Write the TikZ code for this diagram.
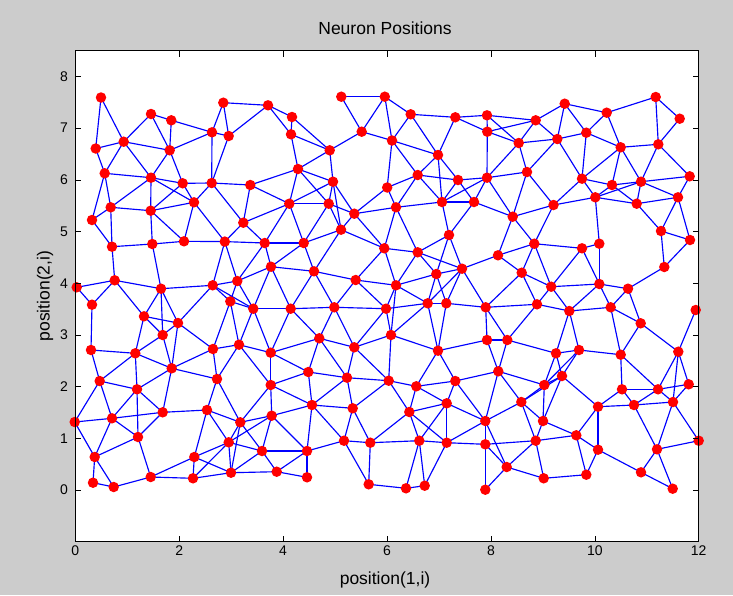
\documentclass[tikz,border=0pt]{standalone}
\usepackage{fontspec}
\setmainfont{Liberation Sans}
\definecolor{figbg}{RGB}{204,204,204}
\pgfdeclarelayer{back}
\pgfdeclarelayer{edges}
\pgfsetlayers{back,edges,main}
\tikzset{
  dot/.style={circle,fill=red,inner sep=0pt,minimum size=10.5pt},
  edge/.style={draw=blue,line width=1.15pt},
  lbl/.style={font=\fontsize{14}{16}\selectfont,inner sep=0pt},
  big/.style={font=\fontsize{17.5}{20}\selectfont,inner sep=0pt},
  tick/.style={draw=black,line width=0.6pt}
}
\def\pts{101/97.5,151/114,171.3/120.3,223.3/102.7,212/132.3,95.7/148.5,123.7/141.7,169.7/150.3,104.7/173.3,151/177.7,182.7/183.3,211.7/183,194/202.3,110.7/207.3,150.7/210.7,92/220,
228.7/136,268/105.3,292/117,291/134.3,341.3/96.7,384.8/96.7,361.7/131.7,329.7/150.3,298/169,333/181.7,250.3/185,289.3/203.7,328.7/203.7,354.3/213.7,243.3/222.7,
410.7/114.3,455.3/117.3,487/115.3,535.7/120.3,487.3/131.7,518.7/143,392/140.5,438/155,417.7/175,458/180,487/177.7,527/172,387.2/187.5,396/207.3,442/202,474/202,512.7/216.7,
564.7/103.7,606.7/112.7,655.7/97,679.7/118.7,586.3/132.7,557.3/139,620.7/147.3,658.3/144.3,689.7/176.3,582/178.7,612/185,641/181.7,595.3/197.3,636.7/203.7,678/197.3,553.5/205,
112/246.7,152.3/244,184/241.3,224.8/241.6,76.7/287.3,114.7/280.3,161/288.7,212.7/285.3,92/304.7,144/316.3,178/323,162.7/335,91/350,135.3/353.3,213/349,
341/229.7,264.7/243,303.7/243,384.3/248.3,271/266.7,314/271.3,355.7/280,237.3/281,230.3/301.4,253.3/308.7,290.7/308.7,334.3/307.3,386/308.7,239/344.7,319.3/338.3,354.3/347.3,270.7/352.7,
449/235,417.7/252.3,436.3/274,462/268.7,534.3/243.7,498/255.3,521.7/272.7,396/285.3,427.7/303.3,446.3/303.3,485.7/307.3,537/304.3,391/335,438/350.7,487/340,507.3/340,
661/231,690/240,582/248.3,599.3/243.7,664.3/267,551.2/286.7,599.3/284,628/288.7,610.7/307.3,569.3/311,695.7/310,640.7/323.3,556/353.3,579/350,620.7/354.7,678.3/351.7,
171.7/368.3,99.7/381,137/389.3,217/379,74.7/422,112/418.3,162.7/412.3,207/410,138/437,94.7/457,194.3/457,93/482.7,113.7/487,150.7/477,193/478.3,
308.3/372,270.7/385,347/377.7,312/405,352.7/408.3,271.7/415.7,240.3/422.3,228.7/442.3,262/451,307/451,344/440.7,370.3/442.7,231/472.7,276.7/471.7,307/477.3,368.7/484.3,
388.7/380.7,416.3/386.3,455.3/381,498.3/371.3,446.7/403.3,521.3/402,409.3/412,485.3/421,543/421,419.3/440.7,446.7/442.7,485.3/444.3,535.7/440.7,506.7/467,543.7/478.3,406/488.3,424.7/485.7,485.3/489.7,544.3/385,
562/376,622/389.3,658/389.3,688.7/384.3,598/406.7,634/405,673/402,576.3/435.3,698.7/440.7,598/449.7,657/449.3,586.3/474.7,641/472.3,672.7/488.7}
\begin{document}
\begin{tikzpicture}[x=1pt,y=-1pt]
\useasboundingbox (0,0) rectangle (733,595);
\begin{pgfonlayer}{back}
  \fill[figbg] (0,0) rectangle (733,595);
  \fill[white] (75.3,50.5) rectangle (698.7,541.7);
\end{pgfonlayer}
% neurons
\foreach \x/\y [count=\i] in \pts { \node[dot] (n\i) at (\x,\y) {}; }
% links between neurons within distance 1
\begin{pgfonlayer}{edges}
\foreach \xa/\ya [count=\i] in \pts {
  \foreach \xb/\yb [count=\j] in \pts {
    \ifnum\j>\i
      \pgfmathsetmacro\dd{((\xa-\xb)/51.95)^2+((\ya-\yb)/51.7)^2}
      \ifdim\dd pt<1pt \draw[edge] (n\i.center) -- (n\j.center); \fi
    \fi
  }
}
\end{pgfonlayer}
% axes frame and ticks
\draw[tick] (75.3,50.5) rectangle (698.7,541.7);
\foreach \v in {0,...,8} {
  \draw[tick] (75.3,{490-51.7*\v}) -- ++(6,0);
  \draw[tick] (698.7,{490-51.7*\v}) -- ++(-6,0);
  \node[lbl,anchor=east] (yt\v) at (68,{490-51.7*\v}) {\v};
}
\foreach \v in {0,2,...,12} {
  \draw[tick] ({75.3+51.95*\v},541.7) -- ++(0,-6);
  \draw[tick] ({75.3+51.95*\v},50.5) -- ++(0,6);
  \node[lbl,anchor=north] (xt\v) at ({75.3+51.95*\v},546) {\v};
}
\node[big] (title) at (385,28) {Neuron Positions};
\node[big] (xlab) at (385,580) {position(1,i)};
\node[big,rotate=90] (ylab) at (45,296) {position(2,i)};
\end{tikzpicture}
\end{document}
